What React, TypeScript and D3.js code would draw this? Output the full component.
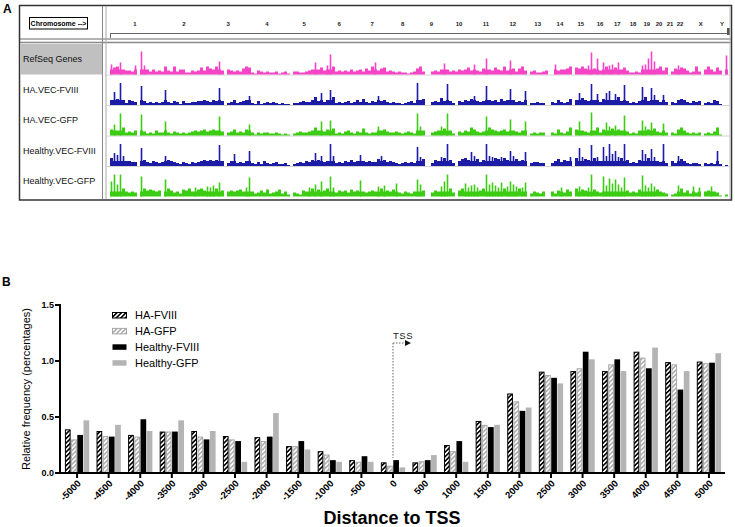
import React from "react";
import * as d3 from "d3";

// ---------- Panel A data ----------
const chromosomes = ["1","2","3","4","5","6","7","8","9","10","11","12","13","14","15","16","17","18","19","20","21","22","X","Y"];
const chromSizesMb = [249.25,243.2,198.0,191.15,180.92,171.12,159.14,146.36,141.21,135.53,135.01,133.85,115.17,107.35,102.53,90.35,81.2,78.08,59.13,63.03,48.13,51.3,155.27,59.37];

const trackNames = ["RefSeq Genes","HA.VEC-FVIII","HA.VEC-GFP","Healthy.VEC-FVIII","Healthy.VEC-GFP"];

const refSeqGenes = [10,7,8,12,5,4,4,3,9,0,23,9,5,3,5,3,4,3,8,4,3,8,3,5,5,2,2,4,3,4,7,4,8,6,5,8,13,4,0,5,4,3,4,3,6,8,7,2,1,4,3,2,3,2,2,3,1,2,3,1,0,3,3,2,2,3,4,5,12,5,7,4,9,20,8,3,4,3,4,3,5,3,4,5,3,6,4,8,12,4,6,7,3,4,3,2,3,2,2,1,2,3,6,8,3,0,0,3,4,3,5,11,5,3,4,3,5,4,5,7,4,10,4,3,6,16,5,4,7,5,4,8,4,14,6,3,6,8,4,0,3,4,2,2,3,4,0,0,10,4,5,5,6,8,0,7,6,8,6,9,22,6,16,4,12,8,9,10,7,12,5,7,4,2,2,3,2,9,10,16,23,13,6,8,4,7,0,3,6,9,7,6,4,2,3,8,3,0,5,8,5,3,7,4,0,19];
const haVecFVIII = [5,13,6,22,5,2,5,4,3,0,19,4,2,3,2,3,2,3,15,3,2,4,3,1,4,2,2,3,3,4,4,5,4,3,5,4,17,4,0,2,3,5,2,3,4,5,9,2,1,4,1,2,3,2,3,2,1,2,1,1,0,2,2,3,4,3,3,5,8,4,12,3,5,15,8,2,3,2,3,4,2,3,5,3,6,3,2,4,3,9,4,5,3,2,3,2,2,1,2,3,4,2,22,5,6,0,0,3,4,3,7,4,21,4,2,0,4,3,5,4,6,9,4,3,4,19,5,4,5,3,6,4,5,16,5,3,4,3,14,0,2,2,3,2,2,0,0,3,2,5,3,2,3,6,0,5,12,7,5,4,21,5,11,3,6,12,14,5,11,8,4,20,4,2,3,2,4,18,8,4,17,10,5,3,10,3,0,3,2,5,6,5,3,2,4,3,4,0,2,3,2,5,4,1,0,0];
const haVecGFP = [6,11,5,22,8,3,4,3,5,0,21,4,2,3,2,5,3,3,14,3,2,4,3,2,3,2,3,4,5,4,5,6,4,5,6,5,19,4,0,3,4,6,3,4,3,6,11,3,1,3,2,3,3,2,2,3,2,1,2,1,0,2,3,4,3,3,4,5,8,5,14,4,6,15,7,2,3,2,4,5,3,2,4,3,7,3,2,3,3,9,5,6,4,3,3,4,3,2,3,4,3,2,22,9,5,0,0,3,4,5,9,7,22,5,2,0,4,3,5,4,8,6,4,3,4,19,8,6,5,4,5,6,4,16,5,4,3,5,14,0,2,3,2,3,3,0,0,3,2,6,3,2,4,8,0,6,14,5,4,3,23,5,8,3,6,13,9,7,10,6,5,20,4,2,3,2,5,15,9,6,13,7,4,3,12,3,0,3,2,6,8,5,3,2,3,2,3,0,2,3,2,4,8,1,0,0];
const healthyVecFVIII = [8,13,11,22,10,5,5,4,4,0,18,6,4,3,5,4,3,4,10,6,5,4,3,2,4,3,2,4,3,4,5,6,5,6,5,6,21,5,0,3,5,12,3,4,3,5,15,3,2,4,2,5,3,2,3,4,2,2,3,1,0,2,3,4,3,5,4,6,13,6,10,4,5,22,10,3,4,3,5,4,6,4,5,11,5,4,5,4,4,7,10,6,4,5,4,3,2,3,4,3,4,3,19,9,7,0,0,3,6,5,9,8,22,6,3,0,5,7,8,6,14,10,7,4,6,22,10,9,8,7,9,8,6,15,10,7,5,6,14,0,3,4,4,3,3,0,0,3,5,7,4,6,5,9,0,8,18,9,7,6,21,8,9,5,19,10,22,12,15,9,8,22,6,3,4,3,6,16,12,8,17,9,5,4,22,3,0,5,3,10,7,5,3,2,3,3,2,0,3,2,3,2,15,2,0,1];
const healthyVecGFP = [15,22,12,22,8,5,4,5,4,0,20,8,6,7,6,5,6,0,17,8,6,4,5,3,7,6,8,5,9,7,8,6,10,9,11,8,14,6,0,5,6,5,6,7,5,9,19,5,3,4,6,4,7,3,4,5,7,3,5,2,0,4,3,2,6,5,9,8,12,7,15,6,8,20,9,4,6,5,6,4,7,5,6,16,5,4,5,6,5,10,8,11,6,5,7,13,4,3,5,4,3,5,17,12,6,0,0,4,6,5,10,15,22,8,4,0,6,8,13,9,11,12,9,6,8,22,12,14,11,9,14,8,10,15,12,10,8,9,14,0,3,5,4,3,5,0,0,5,3,6,9,4,7,5,0,8,10,7,6,9,22,7,5,4,20,11,18,13,17,12,9,19,6,4,5,4,7,21,11,9,13,10,7,5,4,3,0,2,3,11,8,4,6,3,10,4,9,0,5,6,10,5,4,1,0,2];

// ---------- Panel B data ----------
const distances = [-5000,-4500,-4000,-3500,-3000,-2500,-2000,-1500,-1000,-500,0,500,1000,1500,2000,2500,3000,3500,4000,4500,5000];
const seriesNames = ["HA-FVIII","HA-GFP","Healthy-FVIII","Healthy-GFP"];
const haFVIII = [0.39,0.375,0.34,0.37,0.375,0.33,0.32,0.24,0.195,0.115,0.095,0.095,0.25,0.465,0.71,0.905,0.91,0.91,1.083,0.99,0.995];
const haGFP = [0.30,0.33,0.325,0.37,0.325,0.30,0.285,0.24,0.165,0.10,0.065,0.105,0.195,0.43,0.64,0.875,0.935,0.97,1.03,0.97,0.98];
const healthyFVIII = [0.34,0.325,0.48,0.37,0.30,0.285,0.325,0.285,0.115,0.15,0.115,0.115,0.285,0.41,0.555,0.85,1.083,1.015,0.935,0.745,0.985];
const healthyGFP = [0.47,0.43,0.375,0.47,0.375,0.10,0.535,0.21,0.10,0.10,0.05,0.16,0.10,0.43,0.585,0.80,1.015,0.91,1.12,0.91,1.07];
const yTicks = [0, 0.5, 1.0, 1.5];

const FONT = "'Liberation Sans', Arial, sans-serif";

export default function App() {
  // ---- Panel A scales ----
  const trackData = [refSeqGenes, haVecFVIII, haVecGFP, healthyVecFVIII, healthyVecGFP];
  const trackColors = ["#f544c6", "#1c1ca6", "#3ccc14", "#1c1ca6", "#3ccc14"];
  const cum = d3.cumsum(chromSizesMb);
  const total = cum[cum.length - 1];
  const gx = d3.scaleLinear().domain([0, total]).range([110, 728]);
  const nb = 206;
  const bx = d3.scaleLinear().domain([0, nb]).range([110, 728]);
  const hScale = d3.scaleLinear().domain([0, 23]).range([0, 23]);
  const rowTop = (k: number) => 44 + k * 30.5;
  const rowH = 30.5;

  // ---- Panel B scales ----
  const x0 = d3.scaleBand<number>().domain(distances).range([60, 726]).paddingInner(0.2).paddingOuter(0.14);
  const x1 = d3.scaleBand<string>().domain(seriesNames).range([0, x0.bandwidth()]).padding(0.08);
  const y = d3.scaleLinear().domain([0, 1.5]).range([473, 305]);
  const series = [haFVIII, haGFP, healthyFVIII, healthyGFP];
  const fills = ["url(#hatchBlack)", "url(#hatchGray)", "#000", "#b4b4b4"];
  const strokes = ["#000", "#a8a8a8", "none", "none"];
  const fmt = d3.format(".1f");
  const tssX = (x0(0) as number) + x0.bandwidth() / 2;

  return (
    <svg width={735} height={527} style={{ position: "absolute", left: 0, top: 0, background: "#fff" }} fontFamily={FONT}>
      <defs>
        <pattern id="hatchBlack" patternUnits="userSpaceOnUse" width={3.2} height={3.2} patternTransform="rotate(45)">
          <rect width={3.2} height={3.2} fill="#fff" />
          <rect width={1.6} height={3.2} fill="#000" />
        </pattern>
        <pattern id="hatchGray" patternUnits="userSpaceOnUse" width={3.2} height={3.2} patternTransform="rotate(45)">
          <rect width={3.2} height={3.2} fill="#fff" />
          <rect width={1.6} height={3.2} fill="#b0b0b0" />
        </pattern>
      </defs>

      {/* ===== Panel A ===== */}
      <text x={3} y={13} fontSize={12} fontWeight="bold">A</text>
      <rect x={19.5} y={5.5} width={712} height={194.5} fill="#fff" stroke="#333" strokeWidth={1.5} />
      {/* header */}
      <rect x={29.5} y={17.5} width={58} height={11.5} fill="#fff" stroke="#000" strokeWidth={1} />
      <text x={58.5} y={26} fontSize={7} textAnchor="middle" fontWeight={600}>Chromosome --&gt;</text>
      <line x1={110} x2={728} y1={33.5} y2={33.5} stroke="#666" strokeWidth={1} />
      <line x1={110.5} x2={110.5} y1={33} y2={38} stroke="#666" strokeWidth={1} />
      {cum.slice(0, -1).map((c, i) => (
        <line key={"ct" + i} x1={gx(c)} x2={gx(c)} y1={29} y2={33.5} stroke="#777" strokeWidth={1} />
      ))}
      <rect x={727} y={28} width={3} height={7} fill="#555" />
      {chromosomes.map((c, i) => (
        <text key={"cl" + i} x={gx((i === 0 ? 0 : cum[i - 1]) + chromSizesMb[i] / 2)} y={26} fontSize={6} fontWeight={600} textAnchor="middle" fill="#222">{c}</text>
      ))}
      <line x1={20} x2={731} y1={39} y2={39} stroke="#666" strokeWidth={1} />
      <line x1={20} x2={731} y1={42.5} y2={42.5} stroke="#888" strokeWidth={1.5} />
      <line x1={102.5} x2={102.5} y1={6} y2={199} stroke="#888" strokeWidth={1} />
      <line x1={106} x2={106} y1={6} y2={199} stroke="#aaa" strokeWidth={1} />
      <line x1={730} x2={730} y1={6} y2={199} stroke="#bbb" strokeWidth={1} />
      {/* label column */}
      <rect x={20} y={44} width={82} height={30.5} fill="#c0c0c0" />
      {trackNames.map((n, k) => (
        <text key={"tn" + k} x={23} y={rowTop(k) + rowH / 2 + 3} fontSize={9} fill="#111">{n}</text>
      ))}
      {/* row separators */}
      {trackNames.slice(0, -1).map((_, k) => (
        <line key={"rs" + k} x1={107} x2={730} y1={rowTop(k + 1) + 0.5} y2={rowTop(k + 1) + 0.5} stroke="#d4d4d4" strokeWidth={1} />
      ))}
      {trackData.map((arr, k) => (
        <g key={"tr" + k} fill={trackColors[k]}>
          {arr.map((v, i) => {
            if (v <= 0) return null;
            const w = bx(i + 1) - bx(i);
            const bw = v >= 9 ? 1.6 : w;
            const xx = bx(i) + (w - bw) / 2;
            return (
              <g key={i}>
                {v >= 9 ? (
                  <rect x={bx(i)} width={w} y={rowTop(k) + rowH - hScale(Math.min(v, 5))} height={hScale(Math.min(v, 5))} />
                ) : null}
                <rect x={xx} width={bw} y={rowTop(k) + rowH - hScale(v)} height={hScale(v)} />
              </g>
            );
          })}
        </g>
      ))}

      {/* ===== Panel B ===== */}
      <text x={2} y={286} fontSize={12} fontWeight="bold">B</text>
      {/* bars */}
      {distances.map((d, i) => (
        <g key={"g" + d} transform={`translate(${x0(d)},0)`}>
          {series.map((s, j) => (
            <rect
              key={j}
              x={(x1(seriesNames[j]) as number) + (strokes[j] !== "none" ? 0.5 : 0)}
              y={y(s[i]) + (strokes[j] !== "none" ? 0.5 : 0)}
              width={x1.bandwidth() - (strokes[j] !== "none" ? 1 : 0)}
              height={473 - y(s[i]) - (strokes[j] !== "none" ? 0.5 : 0)}
              fill={fills[j]}
              stroke={strokes[j]}
              strokeWidth={1}
            />
          ))}
        </g>
      ))}
      {/* TSS annotation */}
      <line x1={tssX} x2={tssX} y1={343} y2={458} stroke="#666" strokeWidth={1} strokeDasharray="1.5,1.5" />
      <line x1={tssX} x2={tssX + 13} y1={343} y2={343} stroke="#666" strokeWidth={1} strokeDasharray="1.5,1.5" />
      <path d={`M${tssX + 12},${340} L${tssX + 18},${343} L${tssX + 12},${346} Z`} fill="#111" />
      <text x={tssX} y={339} fontSize={9.5} fill="#222" letterSpacing={0.5}>TSS</text>

      {/* axes */}
      <line x1={60} x2={60} y1={304} y2={474} stroke="#000" strokeWidth={2} />
      <line x1={59} x2={725} y1={473} y2={473} stroke="#000" strokeWidth={2} />
      {yTicks.map((t) => (
        <g key={"yt" + t}>
          <line x1={55} x2={60} y1={y(t)} y2={y(t)} stroke="#000" strokeWidth={2} />
          <text x={54} y={y(t) + 3} fontSize={9} fontWeight="bold" textAnchor="end">{fmt(t)}</text>
        </g>
      ))}
      {distances.map((d) => {
        const cx = (x0(d) as number) + x0.bandwidth() / 2;
        return (
          <g key={"xt" + d}>
            <line x1={cx} x2={cx} y1={473} y2={478} stroke="#000" strokeWidth={2} />
            <text transform={`translate(${cx + 4.5},${484}) rotate(-45)`} fontSize={9.5} fontWeight="bold" textAnchor="end">{d}</text>
          </g>
        );
      })}
      <text transform={`translate(30,389) rotate(-90)`} fontSize={11} textAnchor="middle">Relative frequency (percentages)</text>
      <text x={392} y={524} fontSize={18} fontWeight="bold" textAnchor="middle">Distance to TSS</text>

      {/* legend */}
      {seriesNames.map((n, j) => (
        <g key={"lg" + j} transform={`translate(112,${312 + j * 15.9})`}>
          <rect x={0.5} y={0.5} width={14} height={5.5} fill={fills[j]} stroke={strokes[j]} strokeWidth={1} />
          <text x={23} y={7} fontSize={11}>{n}</text>
        </g>
      ))}
    </svg>
  );
}
